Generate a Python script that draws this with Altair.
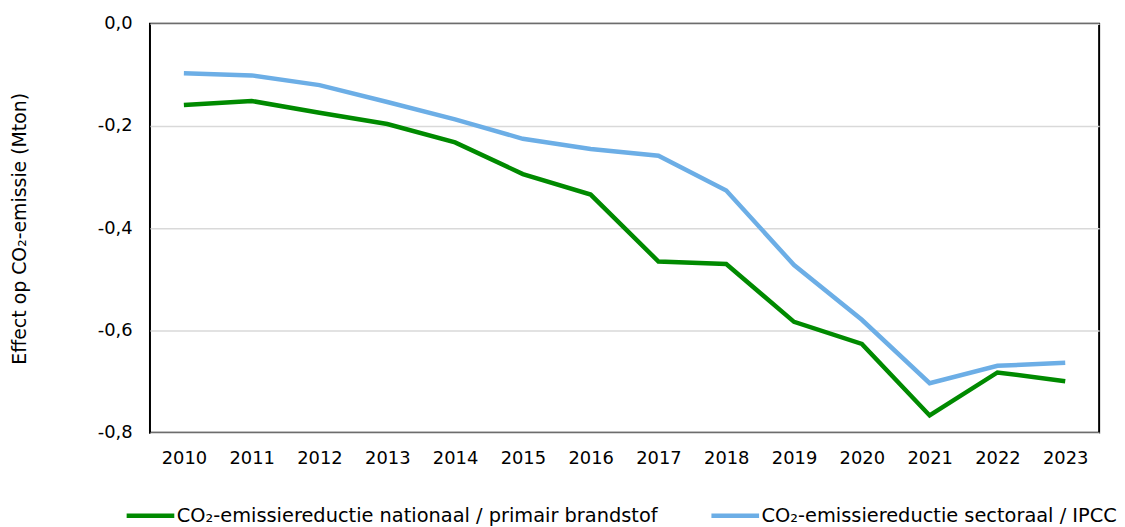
import altair as alt
import pandas as pd

years = [str(y) for y in range(2010, 2024)]
nationaal = [-0.159, -0.151, -0.174, -0.196, -0.232, -0.294, -0.334, -0.465, -0.470, -0.583, -0.626, -0.766, -0.682, -0.699]
sectoraal = [-0.097, -0.101, -0.120, -0.153, -0.187, -0.225, -0.245, -0.258, -0.326, -0.472, -0.579, -0.703, -0.669, -0.663]
series_names = [
    "CO\u2082-emissiereductie nationaal / primair brandstof",
    "CO\u2082-emissiereductie sectoraal / IPCC",
]
colors = ["#008A00", "#6CAEE6"]

rows = []
for y, v in zip(years, nationaal):
    rows.append({"jaar": y, "waarde": v, "reeks": series_names[0]})
for y, v in zip(years, sectoraal):
    rows.append({"jaar": y, "waarde": v, "reeks": series_names[1]})
df = pd.DataFrame(rows)

FONT = "DejaVu Sans"

chart = alt.Chart(df).mark_line(strokeWidth=4.5).encode(
    x=alt.X("jaar:O", sort=years,
            scale=alt.Scale(type="point", padding=0.5),
            axis=alt.Axis(title=None, labelAngle=0, ticks=False, domain=False,
                          labelPadding=17, labelFontSize=18, labelFont=FONT,
                          labelColor="#000000")),
    y=alt.Y("waarde:Q",
            scale=alt.Scale(domain=[-0.8, 0.0], nice=False),
            axis=alt.Axis(title="Effect op CO\u2082-emissie (Mton)",
                          values=[0.0, -0.2, -0.4, -0.6, -0.8],
                          labelExpr="(datum.value < -0.0001 ? '-' : '') + replace(format(abs(datum.value), '.1f'), '.', ',')",
                          ticks=False, domain=False, grid=True,
                          gridColor="#D9D9D9", gridWidth=1.5,
                          labelPadding=18, labelFontSize=18, labelFont=FONT,
                          labelColor="#000000",
                          titleFont=FONT, titleFontSize=19, titleFontWeight="normal",
                          titleColor="#000000",
                          titleX=-131, titleY=206, titleAngle=270,
                          titleAlign="center", titleBaseline="middle")),
    color=alt.Color("reeks:N", sort=series_names,
                    scale=alt.Scale(domain=series_names, range=colors),
                    legend=alt.Legend(title=None, orient="none",
                                      legendX=-26, legendY=469,
                                      direction="horizontal",
                                      symbolType="stroke", symbolSize=2304,
                                      symbolStrokeWidth=4.5,
                                      labelFont=FONT, labelFontSize=19.5,
                                      labelColor="#000000",
                                      labelOffset=0, columnPadding=44,
                                      labelLimit=600)),
).properties(
    width=956,
    height=412,
    background="#FFFFFF",
    autosize=alt.AutoSizeParams(type="none"),
    padding={"left": 143, "top": 14, "right": 18, "bottom": 93},
).configure_view(
    stroke="#000000", strokeWidth=2
)

chart.save("out.html", embed_options={"renderer": "svg", "actions": False})
